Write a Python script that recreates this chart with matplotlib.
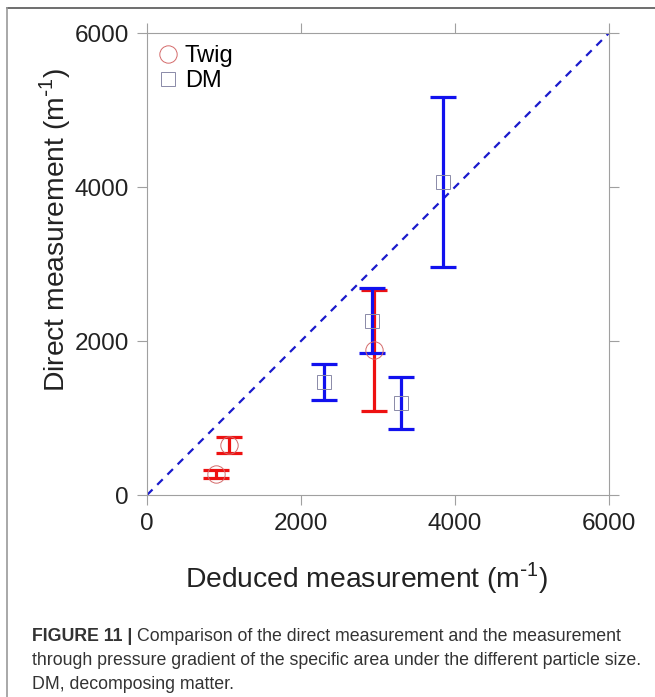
import numpy as np
import matplotlib
matplotlib.use("Agg")
import matplotlib.pyplot as plt
from matplotlib.lines import Line2D

# ── data ──────────────────────────────────────────────────────────────────
twig_x = [900, 1070, 2945]
twig_y = [270, 650, 1880]
twig_err = [55, 108, 785]

dm_x = [2293, 2921, 3303, 3845]
dm_y = [1466, 2266, 1191, 4069]
dm_err = [232, 426, 338, 1104]

ticks = [0, 2000, 4000, 6000]

plt.rcParams["font.family"] = ["Liberation Sans", "DejaVu Sans"]

fig = plt.figure(figsize=(6.55, 6.97), dpi=100)
ax = fig.add_axes([147 / 655, 1 - 495 / 697, 462 / 655, 462 / 697])

# 1:1 reference line
ax.plot([0, 6000], [0, 6000], color="#1a1acc", lw=1.6, ls=(0, (3.5, 3)), zorder=1)

ax.errorbar(twig_x, twig_y, yerr=twig_err, fmt="none", ecolor="#ee1111",
            elinewidth=2.3, capsize=9.5, capthick=2.3, zorder=2)
ax.errorbar(dm_x, dm_y, yerr=dm_err, fmt="none", ecolor="#1111ee",
            elinewidth=2.3, capsize=9.5, capthick=2.3, zorder=3)

ax.plot(twig_x, twig_y, ls="none", marker="o", ms=12.5, mfc="none",
        mec="#d46a6a", mew=0.7, zorder=4)
ax.plot(dm_x, dm_y, ls="none", marker="s", ms=10, mfc="none",
        mec="#8a8aa8", mew=0.7, zorder=4)

ax.set_xlim(0, 6000)
ax.set_ylim(0, 6000)
ax.set_xticks(ticks)
ax.set_yticks(ticks)
ax.tick_params(direction="out", length=7, width=0.8, color="#a0a0a0",
               labelsize=17.5, labelcolor="#222222", pad=6,
               top=True, right=True)
for sp in ax.spines.values():
    sp.set_color("#a0a0a0")
    sp.set_linewidth(0.8)

handles = [
    Line2D([], [], ls="none", marker="o", ms=12.5, mfc="none", mec="#d46a6a", mew=0.7),
    Line2D([], [], ls="none", marker="s", ms=10, mfc="none", mec="#8a8aa8", mew=0.7),
]
ax.legend(handles, ["Twig", "DM"], loc="upper left", frameon=False,
          fontsize=17, handlelength=0.8, handletextpad=0.3, labelspacing=0.15,
          borderaxespad=0.3, borderpad=0.2)

unit = r"(m$^{\mathregular{\text{-}1}}$)"
fig.text(367 / 655, 1 - 578 / 697, "Deduced measurement " + unit,
         fontsize=20.3, ha="center", va="center", color="#222222")
fig.text(55 / 655, 1 - 230 / 697, "Direct measurement " + unit,
         fontsize=20.3, ha="center", va="center", rotation=90, color="#222222")

# caption
cap_kw = dict(fontsize=12.75, color="#333333", va="baseline")
t = fig.text(32 / 655, 1 - 641 / 697, "FIGURE 11 |", fontweight="bold", **cap_kw)
fig.canvas.draw()
bb = t.get_window_extent()
fig.text(bb.x1 / 655 + 0.007, 1 - 641 / 697,
         "Comparison of the direct measurement and the measurement", **cap_kw)
fig.text(32 / 655, 1 - 665 / 697,
         "through pressure gradient of the specific area under the different particle size.",
         **cap_kw)
fig.text(32 / 655, 1 - 689 / 697, "DM, decomposing matter.", **cap_kw)

# frame lines of the figure panel
fig.add_artist(Line2D([7 / 655, 1], [1 - 8 / 697, 1 - 8 / 697], color="#555555", lw=1.2))
fig.add_artist(Line2D([7 / 655, 7 / 655], [0, 1 - 8 / 697], color="#999999", lw=1.2))

fig.savefig("out.png", dpi=100)
